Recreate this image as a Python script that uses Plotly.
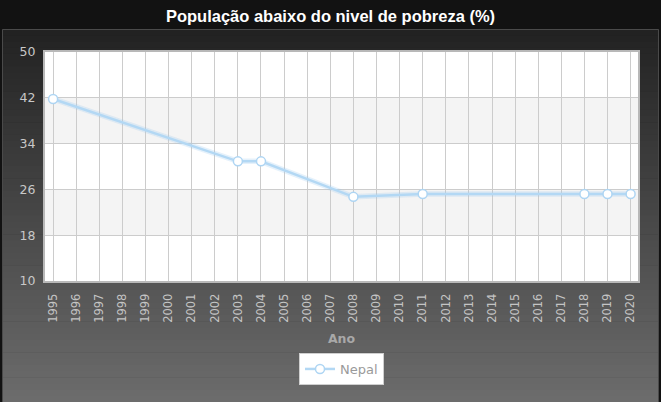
import plotly.graph_objects as go

years = [str(y) for y in range(1995, 2021)]
nepal = [41.8, None, None, None, None, None, None, None, 30.9, 30.9, None, None, None,
         24.7, None, None, 25.2, None, None, None, None, None, None, 25.2, 25.2, 25.2]
y_ticks = [10, 18, 26, 34, 42, 50]
heavy_grid_years = ["2002", "2003", "2012", "2013"]
series_name = "Nepal"
title_text = "População abaixo do nivel de pobreza (%)"
x_title = "Ano"

W, H = 661, 402
L, R, T, B = 45, 23, 52, 121
PW, PH = W - L - R, H - T - B


def px(x):
    return (x - L) / PW


def py(y):
    return (H - B - y) / PH


def lerp(c0, c1, t):
    return "#%02x%02x%02x" % tuple(int(round(a + (b - a) * t)) for a, b in zip(c0, c1))


shapes = []
# dark gradient panel
top, bot = 29, 402
n = 60
c0, c1 = (0x22, 0x22, 0x22), (0x6c, 0x6c, 0x6c)
for i in range(n):
    y0 = top + (bot - top) * i / n
    y1 = top + (bot - top) * (i + 1) / n + 0.6
    shapes.append(dict(type="rect", xref="paper", yref="paper", layer="below",
                       x0=px(2), x1=px(659), y0=py(y1), y1=py(y0),
                       fillcolor=lerp(c0, c1, i / (n - 1)), line=dict(width=0)))
shapes.append(dict(type="rect", xref="paper", yref="paper", layer="below",
                   x0=px(2.5), x1=px(658.5), y0=py(403), y1=py(29.5),
                   fillcolor="rgba(0,0,0,0)", line=dict(color="#4a4a4a", width=1)))
# white plot area
shapes.append(dict(type="rect", xref="paper", yref="paper", layer="below",
                   x0=0, x1=1, y0=0, y1=1, fillcolor="white", line=dict(width=0)))
# alternating bands
for a, b in [(18, 26), (34, 42)]:
    shapes.append(dict(type="rect", xref="paper", yref="y", layer="below",
                       x0=0, x1=1, y0=a, y1=b, fillcolor="#f4f4f4", line=dict(width=0)))
# slightly heavier grid lines
for yr in heavy_grid_years:
    shapes.append(dict(type="line", xref="x", yref="paper", layer="below",
                       x0=yr, x1=yr, y0=0, y1=1, line=dict(color="#c6c6c6", width=2.5)))

fig = go.Figure()
fig.add_trace(go.Scatter(
    x=years, y=nepal, mode="lines", connectgaps=True, showlegend=False,
    hoverinfo="skip", line=dict(color="rgba(150,200,240,0.25)", width=5.5)))
fig.add_trace(go.Scatter(
    x=years, y=nepal, mode="lines+markers", connectgaps=True, name=series_name,
    line=dict(color="#b3d8f4", width=2.5),
    marker=dict(size=9, color="white", line=dict(color="#aed5f3", width=1.5))))

fig.update_layout(
    width=W, height=H,
    margin=dict(l=L, r=R, t=T, b=B),
    paper_bgcolor="#121212",
    plot_bgcolor="rgba(0,0,0,0)",
    shapes=shapes,
    title=dict(text="<b>" + title_text + "</b>", x=0.5, xref="container",
               y=1 - 16.5 / H, yref="container", yanchor="middle", xanchor="center",
               font=dict(family="Liberation Sans Narrow, Arial Narrow, Liberation Sans, Arial",
                         size=16.5, color="white")),
    xaxis=dict(type="category", categoryorder="array", categoryarray=years,
               range=[-0.35, 25.32], tickangle=-90,
               showgrid=True, gridcolor="#cccccc", gridwidth=1,
               showline=True, linecolor="#b8b8b8", linewidth=2, mirror=True,
               ticks="", ticklabelstandoff=6,
               tickfont=dict(family="DejaVu Sans", size=11.5, color="#c4c4c4"),
               title=dict(text="<b>" + x_title + "</b>", standoff=12,
                          font=dict(family="DejaVu Sans", size=12.5, color="#a8a8a8")),
               fixedrange=True),
    yaxis=dict(range=[10, 50], tickvals=y_ticks,
               showgrid=True, gridcolor="#cccccc", gridwidth=1, zeroline=False,
               showline=True, linecolor="#b8b8b8", linewidth=2, mirror=True,
               ticks="", ticklabelstandoff=5,
               tickfont=dict(family="DejaVu Sans", size=12.5, color="#c8c8c8"),
               fixedrange=True),
    legend=dict(x=0.5, xanchor="center", y=py(353), yanchor="top", orientation="h",
                bgcolor="white", bordercolor="#cfcfcf", borderwidth=1, itemwidth=30,
                font=dict(family="DejaVu Sans", size=13, color="#9a9a9a")),
    showlegend=True,
)

fig.write_html("out.html")
